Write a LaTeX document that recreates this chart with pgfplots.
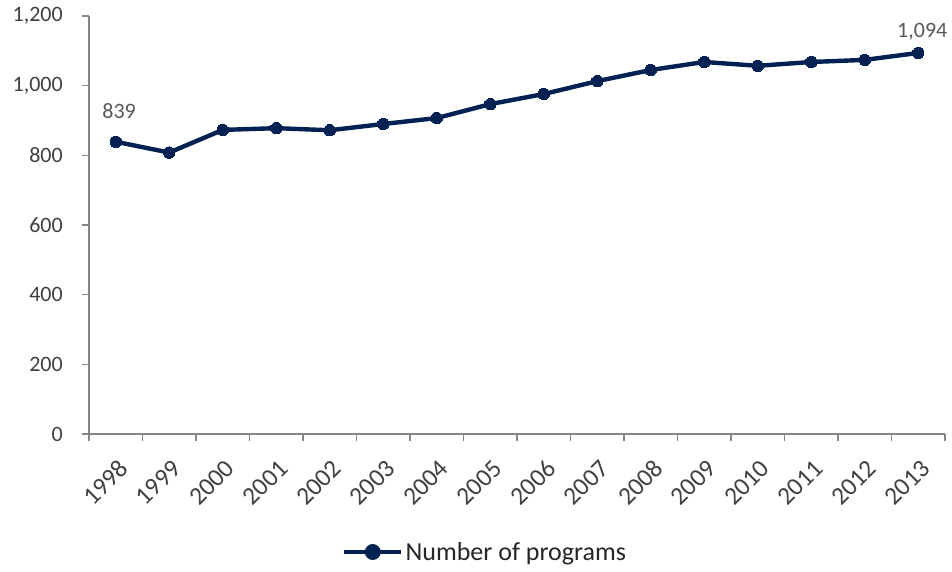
\documentclass[border=0pt]{standalone}
\usepackage{pgfplots}
\pgfplotsset{compat=1.18}
\usepackage{fontspec}
\setmainfont{Carlito}
\definecolor{navy}{RGB}{0,33,81}
\definecolor{axgray}{RGB}{134,134,134}
\definecolor{txt}{RGB}{64,64,64}
\definecolor{lbl}{RGB}{89,89,89}
\begin{document}
\begin{tikzpicture}
\begin{axis}[
  scale only axis, width=642pt, height=313.5pt,
  xmin=-0.5, xmax=15.5, ymin=0, ymax=1200,
  axis lines=left, axis line style={-, draw=axgray, line width=1.1pt},
  tick align=outside,
  major tick length=0pt, minor tick length=5.5pt,
  tick style={draw=axgray, line width=1.1pt},
  minor tick style={draw=axgray, line width=1.1pt},
  xtick={0,...,15},
  xticklabels={1998,1999,2000,2001,2002,2003,2004,2005,2006,2007,2008,2009,2010,2011,2012,2013},
  minor xtick={-0.5,0.5,...,15.5},
  ytick={0,200,...,1200},
  minor ytick={0,200,...,1200},
  /pgf/number format/assume math mode=true,
  /pgf/number format/1000 sep={,},
  tick label style={font=\fontsize{16.5}{19}\selectfont, text=txt},
  yticklabel style={inner sep=0pt, anchor=east, xshift=-19.5pt},
  xticklabel style={font=\fontsize{19}{22}\selectfont, inner sep=0pt, xshift=1pt, yshift=-18pt, rotate=45, anchor=north east},
  clip=false,
  legend style={draw=none, fill=none, at={(0.4626,-0.2823)}, anchor=center,
    font=\fontsize{19.5}{22}\selectfont, text=black!85, inner sep=0pt,
    nodes={inner sep=1.5pt}},
  legend image code/.code={
    \draw[navy, line width=3.3pt] (0pt,0pt) -- (43pt,0pt);
    \fill[navy] (21.5pt,0pt) circle (4.3pt);
  },
]
\addplot[navy, line width=3.3pt, mark=*, mark size=4.3pt, mark options={fill=navy, draw=navy, line width=0pt}]
coordinates {
(0,839) (1,808) (2,873) (3,878) (4,872) (5,890) (6,907) (7,947)
(8,976) (9,1013) (10,1045) (11,1068) (12,1057) (13,1068) (14,1074) (15,1094)
};
\addlegendentry{Number of programs}
\node[font=\fontsize{16.5}{19}\selectfont, text=lbl, xshift=2.5pt, yshift=23pt] at (axis cs:0,839) {839};
\node[font=\fontsize{16.5}{19}\selectfont, text=lbl, xshift=3pt, yshift=16pt] at (axis cs:15,1094) {1,094};
\coordinate (bbll) at (rel axis cs:-0.10397,-0.327751);
\coordinate (bbur) at (rel axis cs:1.008178,1.038278);
\end{axis}
\pgfresetboundingbox
\path (bbll) rectangle (bbur);
\end{tikzpicture}
\end{document}
